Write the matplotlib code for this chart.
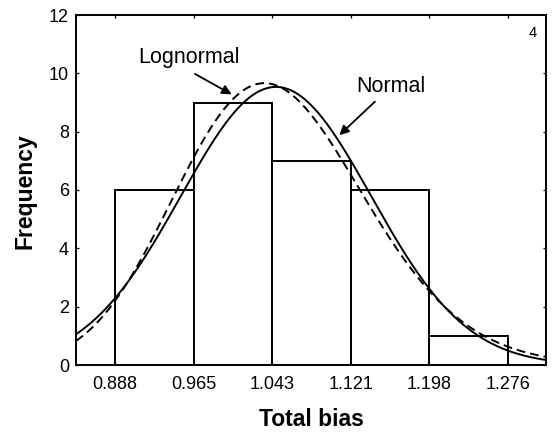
import numpy as np
import matplotlib
matplotlib.use("Agg")
import matplotlib.pyplot as plt

# ---- data ----
bin_start = 0.888
bin_width = 0.07755
counts = [6, 9, 7, 6, 1]
tick_labels = ["0.888", "0.965", "1.043", "1.121", "1.198", "1.276"]
yticks = [0, 2, 4, 6, 8, 10, 12]

# fitted distributions (parameters)
normal_mean = 1.047
normal_sd = 0.0941
logn_mu = 0.0429
logn_sigma = 0.0893

plt.rcParams['font.family'] = ['Liberation Sans', 'DejaVu Sans']

fig = plt.figure(figsize=(5.52, 4.33), dpi=100)
ax = fig.add_axes([76/552, 1 - 365/433, (546-76)/552, (365-15)/433])

edges = bin_start + bin_width * np.arange(len(counts) + 1)
n_total = sum(counts)

ax.bar(edges[:-1], counts, width=bin_width, align='edge', color='white',
       edgecolor='black', linewidth=1.4, zorder=1)

xmin, xmax = 0.8495, 1.3136
x = np.linspace(xmin, xmax, 600)
scale = n_total * bin_width
y_norm = scale / (normal_sd * np.sqrt(2*np.pi)) * np.exp(-(x - normal_mean)**2 / (2*normal_sd**2))
y_logn = scale / (x * logn_sigma * np.sqrt(2*np.pi)) * np.exp(-(np.log(x) - logn_mu)**2 / (2*logn_sigma**2))

ax.plot(x, y_norm, color='black', lw=1.4, zorder=3)
ax.plot(x, y_logn, color='black', lw=1.4, linestyle=(0, (4.5, 2.6)), zorder=3)

ax.set_xlim(xmin, xmax)
ax.set_ylim(0, 12)
ax.set_xticks(edges)
ax.set_xticklabels(tick_labels)
ax.set_yticks(yticks)
ax.tick_params(direction='in', length=2.5, width=0.9, top=True, right=True,
               labelsize=13)
ax.tick_params(axis='x', pad=8)
ax.tick_params(axis='y', pad=5)
for s in ax.spines.values():
    s.set_linewidth(1.4)

# annotations
ax.text(0.9606, 10.53, "Lognormal", fontsize=15.5, ha='center', va='center')
ax.annotate('', xy=(1.0032, 9.28), xytext=(0.967, 9.98),
            arrowprops=dict(arrowstyle='-|>', lw=1.3, color='black',
                            mutation_scale=14, shrinkA=0, shrinkB=0))
ax.text(1.1605, 9.55, "Normal", fontsize=15.5, ha='center', va='center')
ax.annotate('', xy=(1.1095, 7.88), xytext=(1.1447, 9.03),
            arrowprops=dict(arrowstyle='-|>', lw=1.3, color='black',
                            mutation_scale=14, shrinkA=0, shrinkB=0))
ax.text(1.3007, 11.38, "4", fontsize=10.5, ha='center', va='center')

fig.text(311/552, 1 - 426/433, "Total bias", fontsize=16.5, fontweight='bold',
         ha='center', va='baseline')
fig.text(24.5/552, 1 - 191/433, "Frequency", fontsize=16.5, fontweight='bold',
         ha='center', va='center', rotation=90)

fig.savefig("out.png", dpi=100)
